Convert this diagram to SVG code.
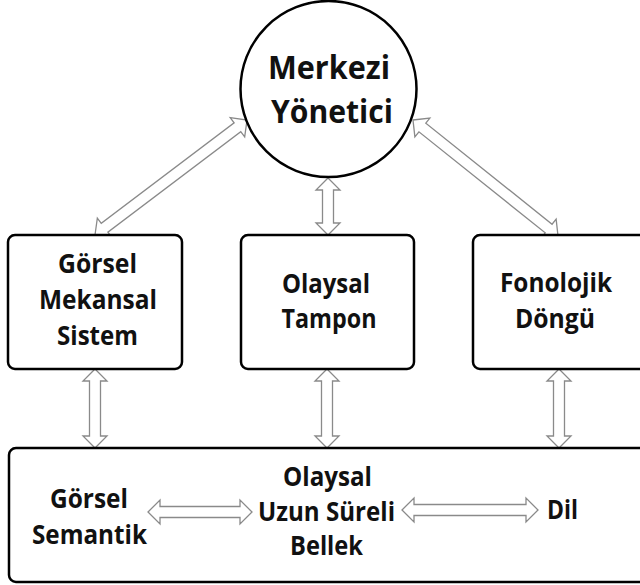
<svg xmlns="http://www.w3.org/2000/svg" width="640" height="585" viewBox="0 0 640 585">
  <style>
    .box { fill: #ffffff; stroke: #000000; stroke-width: 2.5; }
    .arr { fill: #ffffff; stroke: #8a8a8a; stroke-width: 1.3; stroke-linejoin: miter; }
    .t { font-family: "Open Sans", "Liberation Sans", sans-serif; font-weight: 700; font-size: 27px; fill: #111111; text-anchor: middle; }
    .tc { font-size: 32px; }
  </style>
  <rect x="0" y="0" width="640" height="585" fill="#ffffff"/>

  <g id="connectors">
    <polygon class="arr" transform="translate(95,235) rotate(-37.1)" points="0,0 12,-12 12,-5.5 178.6,-5.5 178.6,-12 190.6,0 178.6,12 178.6,5.5 12,5.5 12,12"/>
    <polygon class="arr" transform="translate(413,120) rotate(38.66)" points="0,0 12,-12 12,-5.5 173.7,-5.5 173.7,-12 185.7,0 173.7,12 173.7,5.5 12,5.5 12,12"/>
    <polygon class="arr" transform="translate(328,178) rotate(90)" points="0,0 12,-12 12,-5.5 45,-5.5 45,-12 57,0 45,12 45,5.5 12,5.5 12,12"/>
    <polygon class="arr" transform="translate(95,369) rotate(90)" points="0,0 12,-12 12,-5.5 67,-5.5 67,-12 79,0 67,12 67,5.5 12,5.5 12,12"/>
    <polygon class="arr" transform="translate(327,369) rotate(90)" points="0,0 12,-12 12,-5.5 67,-5.5 67,-12 79,0 67,12 67,5.5 12,5.5 12,12"/>
    <polygon class="arr" transform="translate(559,369) rotate(90)" points="0,0 12,-12 12,-5.5 67,-5.5 67,-12 79,0 67,12 67,5.5 12,5.5 12,12"/>
  </g>

  <g id="merkezi-yonetici">
    <circle class="box" cx="328.5" cy="89" r="88"/>
    <text class="t tc" x="329" y="79" textLength="122" lengthAdjust="spacingAndGlyphs">Merkezi</text>
    <text class="t tc" x="332" y="123" textLength="122" lengthAdjust="spacingAndGlyphs">Yönetici</text>
  </g>

  <g id="gorsel-mekansal">
    <rect class="box" x="8" y="235" width="174" height="134" rx="7"/>
    <text class="t" x="97.5" y="273" textLength="79" lengthAdjust="spacingAndGlyphs">Görsel</text>
    <text class="t" x="98" y="309" textLength="118" lengthAdjust="spacingAndGlyphs">Mekansal</text>
    <text class="t" x="97.5" y="345" textLength="81" lengthAdjust="spacingAndGlyphs">Sistem</text>
  </g>

  <g id="olaysal-tampon">
    <rect class="box" x="241" y="235" width="173" height="134" rx="7"/>
    <text class="t" x="326" y="293" textLength="88" lengthAdjust="spacingAndGlyphs">Olaysal</text>
    <text class="t" x="329" y="328" textLength="95" lengthAdjust="spacingAndGlyphs">Tampon</text>
  </g>

  <g id="fonolojik-dongu">
    <rect class="box" x="473" y="235" width="180" height="134" rx="7"/>
    <text class="t" x="556" y="292" textLength="112" lengthAdjust="spacingAndGlyphs">Fonolojik</text>
    <text class="t" x="555" y="328" textLength="80" lengthAdjust="spacingAndGlyphs">Döngü</text>
  </g>

  <g id="uzun-sureli">
    <rect class="box" x="9" y="448" width="645" height="134" rx="7"/>
    <g id="gorsel-semantik">
      <text class="t" x="89" y="508" textLength="78" lengthAdjust="spacingAndGlyphs">Görsel</text>
      <text class="t" x="89.5" y="544" textLength="115" lengthAdjust="spacingAndGlyphs">Semantik</text>
    </g>
    <g id="olaysal-uzun-sureli-bellek">
      <text class="t" x="327.5" y="486" textLength="89" lengthAdjust="spacingAndGlyphs">Olaysal</text>
      <text class="t" x="326.5" y="521" textLength="137" lengthAdjust="spacingAndGlyphs">Uzun Süreli</text>
      <text class="t" x="326.5" y="555" textLength="73" lengthAdjust="spacingAndGlyphs">Bellek</text>
    </g>
    <g id="dil">
      <text class="t" x="562.5" y="519" textLength="31" lengthAdjust="spacingAndGlyphs">Dil</text>
    </g>
  </g>

  <g id="connectors-inner">
    <polygon class="arr" transform="translate(148,512)" points="0,0 12,-12 12,-5.5 92,-5.5 92,-12 104,0 92,12 92,5.5 12,5.5 12,12"/>
    <polygon class="arr" transform="translate(402,510)" points="0,0 12,-12 12,-5.5 124,-5.5 124,-12 136,0 124,12 124,5.5 12,5.5 12,12"/>
  </g>
</svg>
